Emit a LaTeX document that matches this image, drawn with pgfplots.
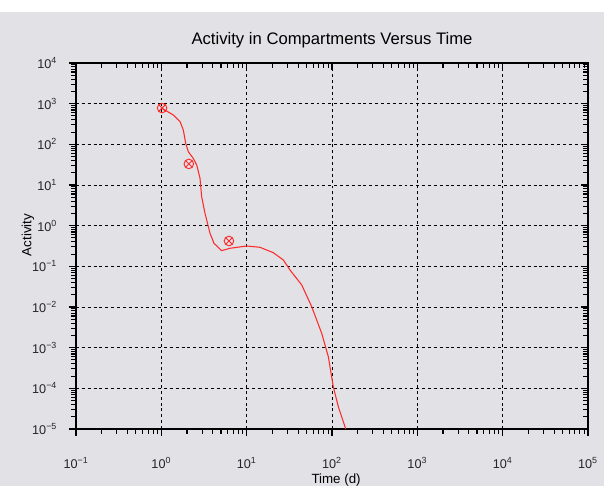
\documentclass[border=0pt]{standalone}
\usepackage{fontspec}
\setmainfont{Liberation Sans}
\usepackage{pgfplots}
\pgfplotsset{compat=1.18}
\definecolor{panel}{HTML}{E1E1E6}
\definecolor{curve}{HTML}{FF2A2A}

\begin{document}
\begin{tikzpicture}
\useasboundingbox (0,0) rectangle (453pt,364.5pt);
\fill[white] (0,0) rectangle (453pt,364.5pt);
\fill[panel] (0,0) rectangle (453pt,355.5pt);
\begin{axis}[at={(57pt,42.75pt)}, anchor=south west,
    scale only axis, width=384pt, height=274.5pt,
    xmode=log, ymode=log, log basis x=10, log basis y=10,
    xmin=0.1, xmax=1e5, ymin=1e-5, ymax=1e4,
    xtick={0.1,1,10,100,1000,10000,100000},
    xticklabels={10\textsuperscript{−1},10\textsuperscript{0},10\textsuperscript{1},10\textsuperscript{2},10\textsuperscript{3},10\textsuperscript{4},10\textsuperscript{5}},
    ytick={1e-5,1e-4,1e-3,1e-2,1e-1,1,10,100,1000,10000},
    yticklabels={10\textsuperscript{−5},10\textsuperscript{−4},10\textsuperscript{−3},10\textsuperscript{−2},10\textsuperscript{−1},10\textsuperscript{0},10\textsuperscript{1},10\textsuperscript{2},10\textsuperscript{3},10\textsuperscript{4}},
    minor xtick={0.2,0.3,0.4,0.5,0.6,0.7,0.8,0.9, 2,3,4,5,6,7,8,9,
      20,30,40,50,60,70,80,90, 200,300,400,500,600,700,800,900,
      2e3,3e3,4e3,5e3,6e3,7e3,8e3,9e3, 2e4,3e4,4e4,5e4,6e4,7e4,8e4,9e4},
    minor ytick={2e-5,3e-5,4e-5,5e-5,6e-5,7e-5,8e-5,9e-5,
      2e-4,3e-4,4e-4,5e-4,6e-4,7e-4,8e-4,9e-4,
      0.002,0.003,0.004,0.005,0.006,0.007,0.008,0.009,
      0.02,0.03,0.04,0.05,0.06,0.07,0.08,0.09,
      0.2,0.3,0.4,0.5,0.6,0.7,0.8,0.9, 2,3,4,5,6,7,8,9,
      20,30,40,50,60,70,80,90, 200,300,400,500,600,700,800,900,
      2e3,3e3,4e3,5e3,6e3,7e3,8e3,9e3},
    major tick length=5pt, minor tick length=3.5pt,
    tick style={black, line width=0.8pt},
    axis line style={black, line width=1.1pt},
    tick align=outside, xtick pos=lower, ytick pos=left,
    xmajorgrids, ymajorgrids,
    major grid style={black, line width=0.7pt, dash pattern=on 2.2pt off 2.2pt},
    tick label style={font=\fontsize{9.5}{11}\selectfont, text=black!85},
    xticklabel style={anchor=base, yshift=-25pt},
    yticklabel style={anchor=east, inner sep=0pt, xshift=-9pt},
    title={Activity in Compartments Versus Time},
    title style={font=\fontsize{12.5}{14}\selectfont, anchor=base, at={(0.5,1)}, yshift=7.5pt, inner sep=0pt},
    xlabel={Time (d)}, ylabel={Activity},
    label style={font=\fontsize{10}{12}\selectfont},
    xlabel style={at={(axis description cs:0.508,-0.1585)}, anchor=south, inner sep=0pt},
    ylabel style={at={(axis description cs:-0.094,0.53)}, anchor=center, inner sep=0pt},
  ]
  \addplot[curve, line width=0.8pt] coordinates {
    (1.02,769) (1.38,526) (1.66,360) (1.81,225) (1.93,106) (2.07,66) (2.37,45)
    (2.60,31) (2.84,14.6) (2.97,5.16) (3.25,2.01) (3.72,0.65) (4.14,0.369)
    (5.09,0.243) (6.38,0.278) (10.0,0.316) (14.3,0.294) (20.5,0.217)
    (26.9,0.143) (32.2,0.0813) (44.2,0.0348) (57.8,0.0102) (75.7,2.26e-3)
    (90.6,6.0e-4) (103.5,1.10e-4) (118.6,3.54e-5) (145,1e-5)};
  \addplot[curve, only marks, mark=otimes, mark size=3.6pt, line width=0.7pt] coordinates {
    (1.02,780) (2.1,33) (6.2,0.42)};
\end{axis}
\begin{axis}[at={(57pt,42.75pt)}, anchor=south west,
    scale only axis, width=384pt, height=274.5pt,
    xmode=log, ymode=log, log basis x=10, log basis y=10,
    xmin=0.1, xmax=1e5, ymin=1e-5, ymax=1e4,
    xtick={0.1,1,10,100,1000,10000,100000},
    ytick={1e-5,1e-4,1e-3,1e-2,1e-1,1,10,100,1000,10000},
    minor xtick={0.2,0.3,0.4,0.5,0.6,0.7,0.8,0.9, 2,3,4,5,6,7,8,9,
      20,30,40,50,60,70,80,90, 200,300,400,500,600,700,800,900,
      2e3,3e3,4e3,5e3,6e3,7e3,8e3,9e3, 2e4,3e4,4e4,5e4,6e4,7e4,8e4,9e4},
    minor ytick={2e-5,3e-5,4e-5,5e-5,6e-5,7e-5,8e-5,9e-5,
      2e-4,3e-4,4e-4,5e-4,6e-4,7e-4,8e-4,9e-4,
      0.002,0.003,0.004,0.005,0.006,0.007,0.008,0.009,
      0.02,0.03,0.04,0.05,0.06,0.07,0.08,0.09,
      0.2,0.3,0.4,0.5,0.6,0.7,0.8,0.9, 2,3,4,5,6,7,8,9,
      20,30,40,50,60,70,80,90, 200,300,400,500,600,700,800,900,
      2e3,3e3,4e3,5e3,6e3,7e3,8e3,9e3},
    major tick length=5pt, minor tick length=3.5pt,
    tick style={black, line width=0.8pt},
    axis line style={draw=none},
    tick align=inside, xtick pos=upper, ytick pos=right,
    xticklabels={}, yticklabels={},
  ]
\end{axis}
\end{tikzpicture}
\end{document}
